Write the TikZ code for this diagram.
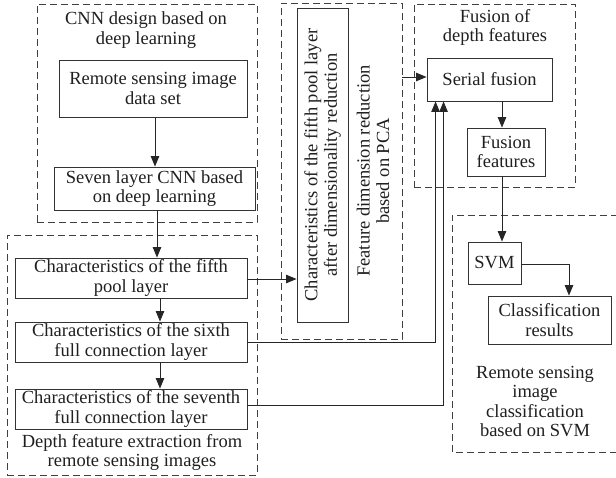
\documentclass[tikz,border=0pt]{standalone}
\usepackage{fontspec}
\setmainfont{Liberation Serif}
\usetikzlibrary{arrows.meta,calc}
\begin{document}
\begin{tikzpicture}[x=1pt,y=-1pt,
  every node/.style={font=\fontsize{18.5}{19.5}\selectfont, text=black!88, align=center, inner sep=0pt},
  bx/.style={draw=black!80, line width=0.9pt},
  grp/.style={draw=black!75, line width=0.9pt, dash pattern=on 7pt off 4pt},
  conn/.style={draw=black!85, line width=0.9pt},
  arr/.style={conn, -{Triangle[length=10.5pt,width=8.5pt]}}]
\useasboundingbox (0,0) rectangle (616,477);

% group frames
\node[grp, minimum width=220, minimum height=218] (cnn) at (147,113) {};
\node[grp, minimum width=250, minimum height=240] (depth) at (132,355) {};
\node[grp, minimum width=121, minimum height=336] (pca) at (341.5,171) {};
\node[grp, minimum width=161, minimum height=183] (fus) at (494.5,95.5) {};
\draw[grp] (618,215) -| (452,452) -- (618,452);

% group titles
\node (cnnt) at (146,30) {CNN design based on\\deep learning};
\node (deptht) at (132,452.5) {Depth feature extraction from\\remote sensing images};
\node[rotate=90] (pcat) at (373,171) {Feature dimension reduction\\based on PCA};
\node (fust) at (495,27.5) {Fusion of\\depth features};
\node (svmt) at (535,401.5) {Remote sensing\\image\\classification\\based on SVM};

% boxes
\node[bx, minimum width=188, minimum height=57] (remote) at (153,88.5) {Remote sensing image\\data set};
\node[bx, minimum width=201, minimum height=43] (seven) at (154.5,188.5) {Seven layer CNN based\\on deep learning};
\node[bx, minimum width=232, minimum height=40] (c5) at (131,278) {Characteristics of the fifth\\pool layer};
\node[bx, minimum width=232, minimum height=40] (c6) at (131,342) {Characteristics of the sixth\\full connection layer};
\node[bx, minimum width=232, minimum height=40] (c7) at (131,409) {Characteristics of the seventh\\full connection layer};
\node[bx, minimum width=51, minimum height=314] (pcain) at (322.5,165) {};
\node[rotate=90] (pcaintxt) at (pcain) {Characteristics of the fifth pool layer\\after dimensionality reduction};
\node[bx, minimum width=125, minimum height=43] (serial) at (489.5,79.5) {Serial fusion};
\node[bx, minimum width=78, minimum height=48] (ff) at (506,152) {Fusion\\features};
\node[bx, minimum width=53, minimum height=42] (svm) at (494.5,263) {SVM};
\node[bx, minimum width=123, minimum height=48] (cls) at (549.5,320) {Classification\\results};

% connectors
\draw[arr] ([xshift=2]remote.south) -- ([xshift=2]remote.south |- seven.north);
\draw[arr] ([xshift=2.5]seven.south) -- ([xshift=2.5]seven.south |- c5.north);
\draw[arr] ([xshift=29]c5.south) -- ([xshift=29]c5.north |- c6.north);
\draw[arr] ([xshift=29]c6.south) -- ([xshift=29]c6.north |- c7.north);
\draw[arr] ([yshift=-1]c5.east) -- ([yshift=-1]c5.east -| pcain.west);
\draw[arr] ([yshift=2.5]serial.west -| pca.east) -- ([yshift=2.5]serial.west);
\coordinate (in6) at ($(serial.south west)+(9,0)$);
\coordinate (in7) at ($(serial.south west)+(17,0)$);
\draw[arr] (c6.east) -| (in6);
\draw[arr] ([yshift=4]c7.east) -| (in7);
\draw[arr] ([xshift=-4]ff.north |- serial.south) -- ([xshift=-4]ff.north);
\draw[arr] ([xshift=-4]ff.south) -- ([xshift=-4]ff.south |- svm.north);
\draw[arr] ([yshift=-1]svm.east) -| ([xshift=19.5]cls.north);
\end{tikzpicture}
\end{document}
